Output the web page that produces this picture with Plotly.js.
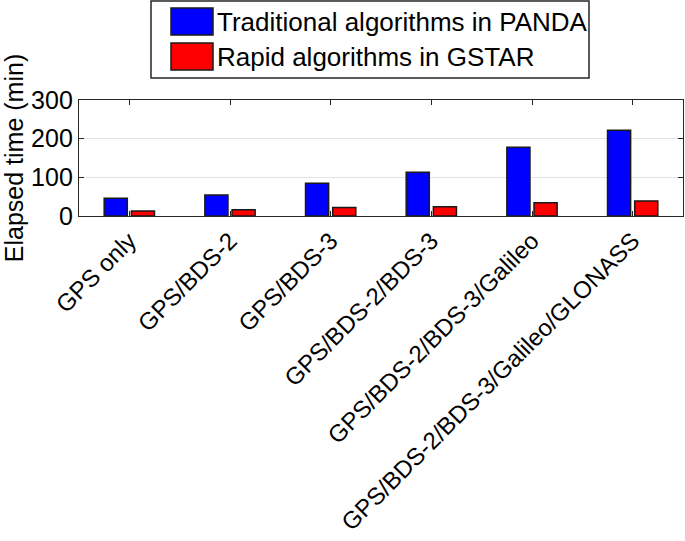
<!DOCTYPE html>
<html>
<head>
<meta charset="utf-8">
<script src="https://cdn.plot.ly/plotly-3.0.1.min.js"></script>
<style>
html,body{margin:0;padding:0;background:#fff;}
#chart{width:685px;height:541px;}
</style>
</head>
<body>
<div id="chart"></div>
<script>
var categories = ["GPS only", "GPS/BDS-2", "GPS/BDS-3", "GPS/BDS-2/BDS-3", "GPS/BDS-2/BDS-3/Galileo", "GPS/BDS-2/BDS-3/Galileo/GLONASS"];
var seriesNames = ["Traditional algorithms in PANDA", "Rapid algorithms in GSTAR"];
var panda = [46, 54, 85, 113, 178, 222];
var gstar = [13, 16, 22, 24, 34, 39];
var seriesColors = ["#0000ff", "#ff0000"];
var yTicks = [0, 100, 200, 300];

var FONT = "Liberation Sans, Arial, sans-serif";

var traces = [panda, gstar].map(function (vals, i) {
  return {
    type: "bar",
    x: categories,
    y: vals,
    name: seriesNames[i],
    marker: { color: seriesColors[i], line: { color: "#1a1a1a", width: 1.5 } },
    showlegend: false,
    hoverinfo: "skip"
  };
});

// custom legend (box, swatches, labels) placed in paper coordinates
var L = 79, T = 100, W = 604, H = 116;
function px(x) { return (x - L) / W; }
function py(y) { return (T + H - y) / H; }

var shapes = [{
  type: "rect", xref: "paper", yref: "paper",
  x0: px(151), x1: px(589), y0: py(78), y1: py(1),
  line: { color: "#262626", width: 1.5 }, fillcolor: "#ffffff"
}];
var annotations = [];
var rowY = [[8, 35], [43, 70]];
seriesNames.forEach(function (name, i) {
  shapes.push({
    type: "rect", xref: "paper", yref: "paper",
    x0: px(171), x1: px(213), y0: py(rowY[i][1]), y1: py(rowY[i][0]),
    line: { color: "#1a1a1a", width: 1.5 }, fillcolor: seriesColors[i]
  });
  annotations.push({
    xref: "paper", yref: "paper",
    x: px(215), y: py((rowY[i][0] + rowY[i][1]) / 2),
    xanchor: "left", yanchor: "middle",
    text: name, showarrow: false,
    font: { family: FONT, size: 26, color: "#000" }
  });
});

var layout = {
  width: 685, height: 541,
  margin: { l: 79, r: 2, t: 100, b: 325, pad: 0 },
  paper_bgcolor: "#ffffff",
  plot_bgcolor: "#ffffff",
  barmode: "group",
  bargap: 0.46,
  bargroupgap: 0.15,
  font: { family: FONT, size: 25, color: "#000" },
  xaxis: {
    type: "category",
    range: [-0.5, 5.5],
    tickangle: -45,
    ticks: "inside", ticklen: 5, tickcolor: "#262626", tickwidth: 1,
    showline: true, linecolor: "#262626", linewidth: 1.2, mirror: "allticks",
    showgrid: false,
    tickfont: { family: FONT, size: 24, color: "#000" },
    automargin: false
  },
  yaxis: {
    range: [0, 300],
    tickvals: yTicks,
    ticktext: yTicks.map(String),
    ticks: "inside", ticklen: 5, tickcolor: "#262626", tickwidth: 1,
    showline: true, linecolor: "#262626", linewidth: 1.2, mirror: "allticks",
    showgrid: true, gridcolor: "#e3e3e3", gridwidth: 1,
    zeroline: false,
    tickfont: { family: FONT, size: 25, color: "#000" },
    title: { text: "Elapsed time (min)", font: { family: FONT, size: 25, color: "#000" }, standoff: 4 },
    automargin: false
  },
  shapes: shapes,
  annotations: annotations
};

Plotly.newPlot("chart", traces, layout, { displayModeBar: false, staticPlot: true });
</script>
</body>
</html>
